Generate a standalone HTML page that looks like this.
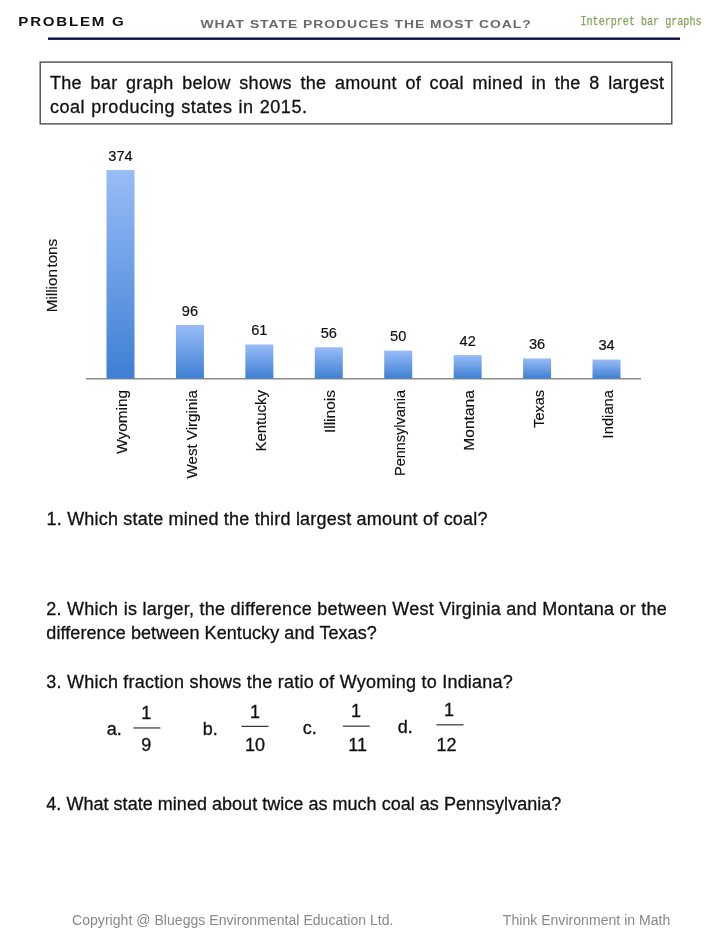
<!DOCTYPE html>
<html><head><meta charset="utf-8"><style>
html,body{margin:0;padding:0;background:#fff;}
svg{display:block;will-change:transform}
text{font-family:"Liberation Sans",sans-serif;fill:#111;}
.b{font-size:18px;stroke:#111;stroke-width:0.3px}
.v{font-size:14.6px;stroke:#111;stroke-width:0.2px}
.xl{font-size:14.3px;stroke:#111;stroke-width:0.15px}
.f{font-size:14px;fill:#888}
</style></head><body>
<svg width="720" height="932" viewBox="0 0 720 932">
<defs><linearGradient id="g" x1="0" y1="0" x2="0" y2="1">
<stop offset="0" stop-color="#98bcf8"/><stop offset="0.5" stop-color="#6c9ee5"/><stop offset="1" stop-color="#3d7fd4"/></linearGradient></defs>
<!-- header -->
<text transform="translate(18.3,25.8) scale(1.2,1)" style="font-size:12.6px;font-weight:bold;fill:#111" textLength="88" lengthAdjust="spacing">PROBLEM G</text>
<text transform="translate(200.5,27.8) scale(1.22,1)" style="font-size:11.4px;font-weight:bold;fill:#6a6a6a;letter-spacing:0.8px;word-spacing:0px">WHAT STATE PRODUCES THE MOST COAL?</text>
<text x="580.5" y="25.1" style="font-family:'Liberation Mono';font-size:12.6px;fill:#84a35a;stroke:#84a35a;stroke-width:0.25px" textLength="121" lengthAdjust="spacingAndGlyphs">Interpret bar graphs</text>
<rect x="48" y="37.5" width="632" height="2.4" fill="#061245"/>
<!-- box -->
<rect x="40.2" y="62.1" width="631.6" height="61.8" fill="none" stroke="#484848" stroke-width="1.35"/>
<text x="50" y="88.8" class="b" style="letter-spacing:0.3px;word-spacing:3.3px">The bar graph below shows the amount of coal mined in the 8 largest</text>
<text x="50" y="112.8" class="b" style="letter-spacing:0.53px;word-spacing:0.6px">coal producing states in 2015.</text>
<!-- chart -->
<text transform="translate(57.2,312.3) rotate(-90)" class="xl" style="word-spacing:-2.5px" textLength="73.5" lengthAdjust="spacingAndGlyphs">Million tons</text>
<rect x="86" y="378" width="555" height="1.5" fill="#8c8c8c"/>
<rect x="106.50" y="170.10" width="28" height="208.40" fill="url(#g)"/>
<text x="120.50" y="160.80" class="v" text-anchor="middle">374</text>
<text transform="translate(127.10,390) rotate(-90)" class="xl" text-anchor="end" textLength="63.8" lengthAdjust="spacingAndGlyphs">Wyoming</text>
<rect x="175.93" y="325.01" width="28" height="53.49" fill="url(#g)"/>
<text x="189.93" y="315.71" class="v" text-anchor="middle">96</text>
<text transform="translate(196.53,390) rotate(-90)" class="xl" text-anchor="end" textLength="88.5" lengthAdjust="spacingAndGlyphs">West Virginia</text>
<rect x="245.36" y="344.51" width="28" height="33.99" fill="url(#g)"/>
<text x="259.36" y="335.21" class="v" text-anchor="middle">61</text>
<text transform="translate(265.96,390) rotate(-90)" class="xl" text-anchor="end" textLength="61.5" lengthAdjust="spacingAndGlyphs">Kentucky</text>
<rect x="314.79" y="347.30" width="28" height="31.20" fill="url(#g)"/>
<text x="328.79" y="338.00" class="v" text-anchor="middle">56</text>
<text transform="translate(335.39,390) rotate(-90)" class="xl" text-anchor="end" textLength="43.1" lengthAdjust="spacingAndGlyphs">Illinois</text>
<rect x="384.22" y="350.64" width="28" height="27.86" fill="url(#g)"/>
<text x="398.22" y="341.34" class="v" text-anchor="middle">50</text>
<text transform="translate(404.82,390) rotate(-90)" class="xl" text-anchor="end" textLength="86.0" lengthAdjust="spacingAndGlyphs">Pennsylvania</text>
<rect x="453.65" y="355.10" width="28" height="23.40" fill="url(#g)"/>
<text x="467.65" y="345.80" class="v" text-anchor="middle">42</text>
<text transform="translate(474.25,390) rotate(-90)" class="xl" text-anchor="end" textLength="60.8" lengthAdjust="spacingAndGlyphs">Montana</text>
<rect x="523.08" y="358.44" width="28" height="20.06" fill="url(#g)"/>
<text x="537.08" y="349.14" class="v" text-anchor="middle">36</text>
<text transform="translate(543.68,390) rotate(-90)" class="xl" text-anchor="end" textLength="37.7" lengthAdjust="spacingAndGlyphs">Texas</text>
<rect x="592.51" y="359.55" width="28" height="18.95" fill="url(#g)"/>
<text x="606.51" y="350.25" class="v" text-anchor="middle">34</text>
<text transform="translate(613.11,390) rotate(-90)" class="xl" text-anchor="end" textLength="48.4" lengthAdjust="spacingAndGlyphs">Indiana</text>
<!-- questions -->
<text x="46.5" y="525" class="b" textLength="441" lengthAdjust="spacing">1. Which state mined the third largest amount of coal?</text>
<text x="46.3" y="615" class="b" textLength="620.5" lengthAdjust="spacing">2. Which is larger, the difference between West Virginia and Montana or the</text>
<text x="46.3" y="638.7" class="b" textLength="330.5" lengthAdjust="spacing">difference between Kentucky and Texas?</text>
<text x="46.3" y="687.7" class="b" textLength="466.5" lengthAdjust="spacing">3. Which fraction shows the ratio of Wyoming to Indiana?</text>
<text x="106.8" y="735.3" class="b">a.</text>
<text x="146.3" y="718.5" class="b" text-anchor="middle">1</text>
<rect x="133.4" y="727.4" width="27" height="1.1" fill="#222"/>
<text x="146.3" y="751" class="b" text-anchor="middle">9</text>
<text x="202.8" y="735" class="b">b.</text>
<text x="255" y="717.8" class="b" text-anchor="middle">1</text>
<rect x="241.5" y="725.8" width="27" height="1.1" fill="#222"/>
<text x="255" y="751" class="b" text-anchor="middle">10</text>
<text x="302.8" y="734" class="b">c.</text>
<text x="356" y="717.2" class="b" text-anchor="middle">1</text>
<rect x="342.8" y="725.6" width="27" height="1.1" fill="#222"/>
<text x="357.6" y="751" class="b" text-anchor="middle">11</text>
<text x="397.8" y="732.8" class="b">d.</text>
<text x="449" y="715.8" class="b" text-anchor="middle">1</text>
<rect x="436.4" y="724.3" width="27.2" height="1.1" fill="#222"/>
<text x="446.6" y="750.7" class="b" text-anchor="middle">12</text>
<text x="46.3" y="809.7" class="b" textLength="515" lengthAdjust="spacing">4. What state mined about twice as much coal as Pennsylvania?</text>
<!-- footer -->
<text x="72" y="925" class="f" textLength="321.5" lengthAdjust="spacing">Copyright @ Blueggs Environmental Education Ltd.</text>
<text x="502.8" y="925" class="f" textLength="167.5" lengthAdjust="spacing">Think Environment in Math</text>
</svg>
</body></html>
